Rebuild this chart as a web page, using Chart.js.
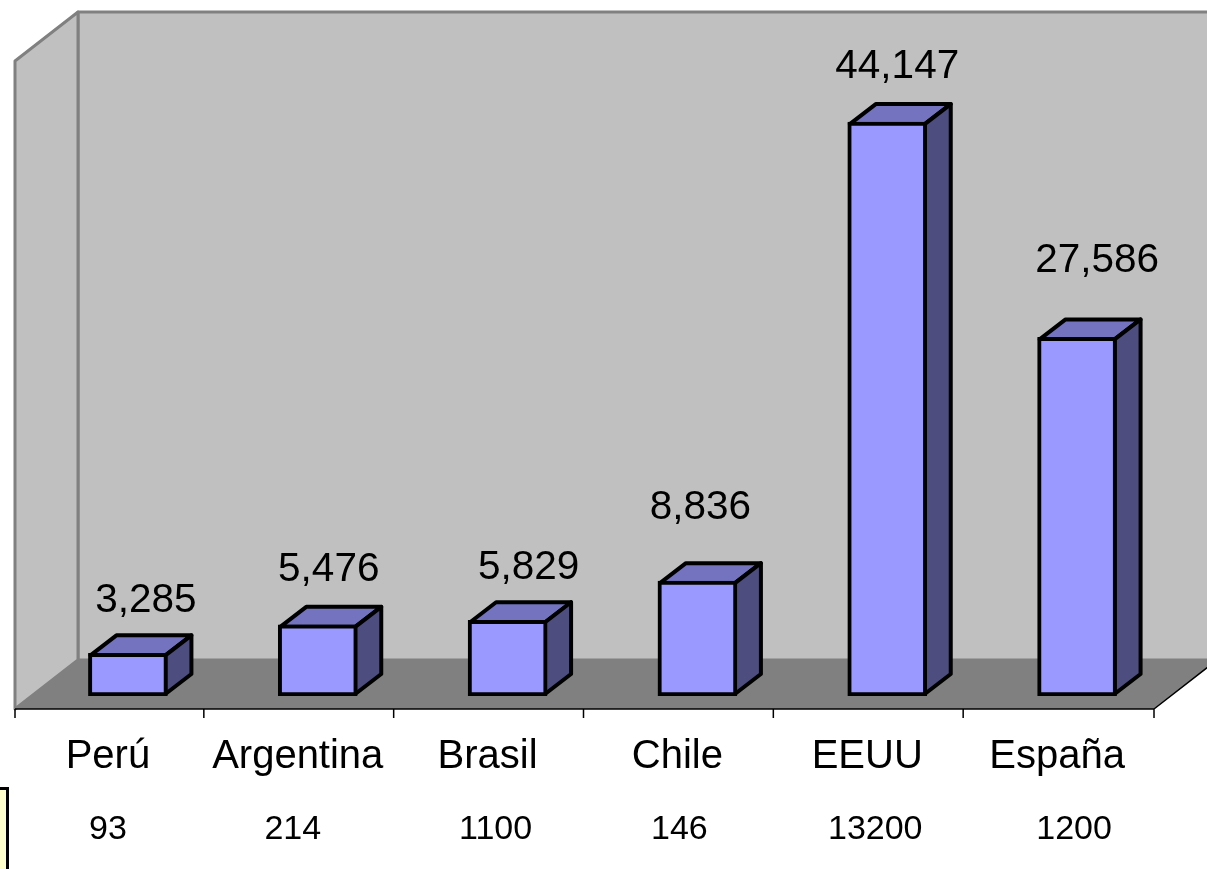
<!DOCTYPE html>
<html>
<head>
<meta charset="utf-8">
<title>Gráfico</title>
<script src="https://cdn.jsdelivr.net/npm/chart.js@4/dist/chart.umd.min.js"></script>
<style>
  html, body { margin: 0; padding: 0; background: #fff; overflow: hidden; }
  canvas { display: block; }
  #box {
    position: absolute; left: -3px; top: 787px; width: 6px; height: 90px;
    background: #ffffcc; border: 3px solid #000;
  }
</style>
</head>
<body>
<canvas id="chart" width="1207" height="869"></canvas>
<div id="box"></div>
<script>
// datos
const paises = ['Perú', 'Argentina', 'Brasil', 'Chile', 'EEUU', 'España'];
const valores = [3285, 5476, 5829, 8836, 44147, 27586];
const fila = ['93', '214', '1100', '146', '13200', '1200'];

// corrimiento de cada rótulo respecto a su barra
const rotuloDx = [18, 11, 21, 3, 10, 20];
const rotuloDy = [52, 55, 52, 73, 55, 77];
const filaDx = [-20, -25, -12, -18, -12, -3];

const FUENTE = '"Liberation Sans", Arial, sans-serif';
const PROF_BARRA = { x: 26, y: 20 };  // profundidad de cada barra
const PROF_PISO = { x: 63, y: 49 };   // profundidad del piso y las paredes
const TRAZO = 4;

function poligono(ctx, pts, relleno, borde, grosor) {
    ctx.beginPath();
    pts.forEach((p, i) => i ? ctx.lineTo(p[0], p[1]) : ctx.moveTo(p[0], p[1]));
    ctx.closePath();
    ctx.fillStyle = relleno;
    ctx.fill();
    if (borde) {
        ctx.strokeStyle = borde;
        ctx.lineWidth = grosor;
        ctx.lineJoin = 'round';
        ctx.stroke();
    }
}

// paredes, piso y eje delantero
const fondo3d = {
    id: 'fondo3d',
    beforeDatasetsDraw(chart) {
        const ctx = chart.ctx;
        const a = chart.chartArea;
        const frenteX = a.left - 18;
        const frenteY = a.bottom + 13;
        const atrasX = frenteX + PROF_PISO.x;
        const atrasY = frenteY - PROF_PISO.y;
        const techo = 12;
        const finX = a.right - 18;
        ctx.save();
        poligono(ctx, [[atrasX, techo], [chart.width + 5, techo], [chart.width + 5, atrasY], [atrasX, atrasY]], '#c0c0c0', '#808080', 3);
        poligono(ctx, [[frenteX, techo + PROF_PISO.y], [atrasX, techo], [atrasX, atrasY], [frenteX, frenteY]], '#c0c0c0', '#808080', 3);
        poligono(ctx, [[frenteX, frenteY], [atrasX, atrasY], [chart.width + 5, atrasY], [finX + PROF_PISO.x, atrasY], [finX, frenteY]], '#808080');

        // borde delantero y marcas de categoría
        ctx.strokeStyle = '#000';
        ctx.lineWidth = 1.5;
        ctx.beginPath();
        ctx.moveTo(frenteX, frenteY);
        ctx.lineTo(finX, frenteY);
        ctx.moveTo(finX, frenteY);
        ctx.lineTo(finX + PROF_PISO.x, atrasY);
        const paso = (a.right - a.left) / paises.length;
        for (let i = 0; i <= paises.length; i++) {
            const x = frenteX + paso * i - (i > 0 && i < paises.length ? 1 : 0);
            ctx.moveTo(x, frenteY);
            ctx.lineTo(x, frenteY + 9);
        }
        ctx.stroke();

        // caras superior y lateral de las barras
        chart.getDatasetMeta(0).data.forEach(barra => {
            const izq = barra.x - barra.width / 2 + TRAZO / 2;
            const der = barra.x + barra.width / 2 - TRAZO / 2;
            const arr = barra.y + TRAZO / 2;
            const aba = barra.base - TRAZO / 2;
            const dx = PROF_BARRA.x, dy = PROF_BARRA.y;
            poligono(ctx, [[izq, arr], [izq + dx, arr - dy], [der + dx, arr - dy], [der, arr]], '#7373bf', '#000', TRAZO);
            poligono(ctx, [[der, arr], [der + dx, arr - dy], [der + dx, aba - dy], [der, aba]], '#4d4d80', '#000', TRAZO);
        });
        ctx.restore();
    }
};

// rótulos de valor y fila inferior
const textos = {
    id: 'textos',
    afterDatasetsDraw(chart) {
        const ctx = chart.ctx;
        ctx.save();
        ctx.textAlign = 'center';
        ctx.textBaseline = 'middle';
        ctx.fillStyle = '#000';
        chart.getDatasetMeta(0).data.forEach((barra, i) => {
            ctx.font = '40.5px ' + FUENTE;
            ctx.fillText(valores[i].toLocaleString('en-US'), barra.x + rotuloDx[i], barra.y - rotuloDy[i]);
            ctx.font = '34px ' + FUENTE;
            ctx.fillText(fila[i], barra.x + filaDx[i], 830);
        });
        ctx.restore();
    }
};

new Chart(document.getElementById('chart'), {
    type: 'bar',
    data: {
        labels: paises,
        datasets: [{
            data: valores,
            backgroundColor: '#9999ff',
            borderColor: '#000',
            borderWidth: TRAZO,
            borderSkipped: false,
            barThickness: 79
        }]
    },
    options: {
        responsive: false,
        animation: false,
        layout: { padding: { left: 33, right: 35, top: 46, bottom: 0 } },
        plugins: { legend: { display: false }, tooltip: { enabled: false } },
        scales: {
            x: {
                grid: { display: false },
                border: { display: false },
                afterFit(scale) { scale.height = 173; },
                ticks: {
                    color: '#000',
                    font: { family: FUENTE, size: 40 },
                    labelOffset: -20,
                    padding: 29,
                    autoSkip: false,
                    maxRotation: 0
                }
            },
            y: { display: false, min: 0, max: 50000 }
        }
    },
    plugins: [fondo3d, textos]
});
</script>
</body>
</html>
